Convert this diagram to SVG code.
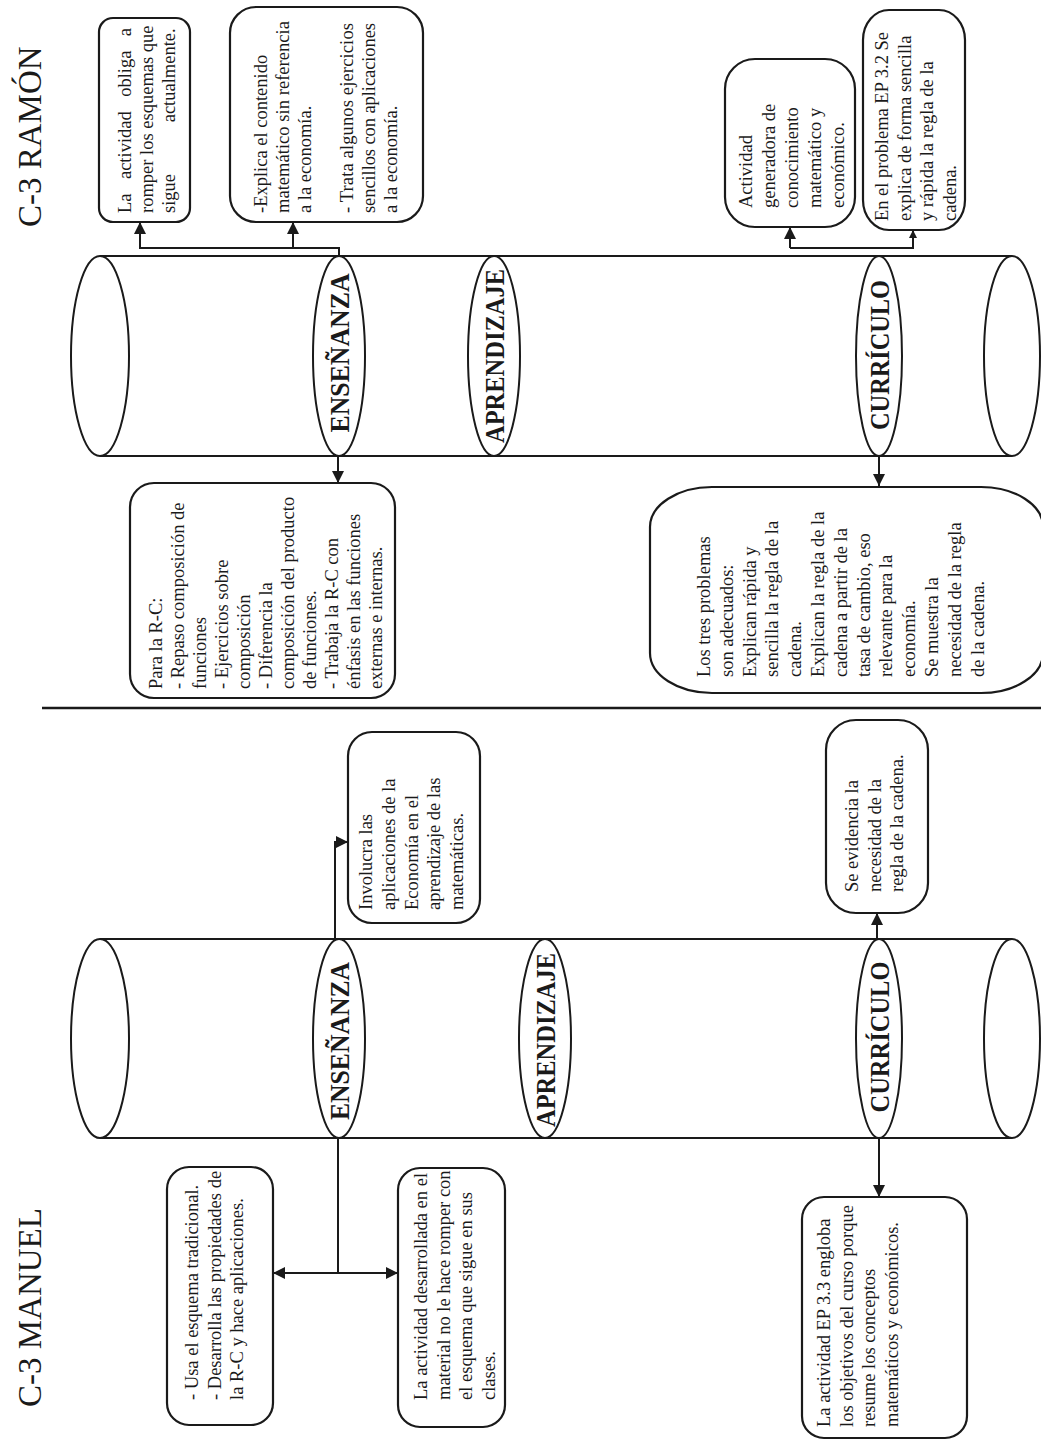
<svg xmlns="http://www.w3.org/2000/svg" width="1041" height="1441" viewBox="0 0 1041 1441">
  <style>
    .bg { fill: #ffffff; }
    .box { fill: #ffffff; stroke: #1a1a1a; stroke-width: 2.2; }
    .cyl { fill: none; stroke: #1a1a1a; stroke-width: 2; }
    .ring { fill: #ffffff; stroke: #1a1a1a; stroke-width: 2; }
    .wire { fill: none; stroke: #1a1a1a; stroke-width: 2; }
    .t { font-family: "Liberation Serif", "Times New Roman", serif; font-size: 18.5px; fill: #1a1a1a; }
    .lbl { font-family: "Liberation Serif", "Times New Roman", serif; font-size: 28px; font-weight: bold; fill: #1a1a1a; text-anchor: middle; }
    .title { font-family: "Liberation Serif", "Times New Roman", serif; font-size: 33px; fill: #1a1a1a; }
  </style>
  <defs>
    <marker id="arrow" viewBox="0 0 12 12" refX="12" refY="6" markerWidth="12" markerHeight="12" markerUnits="userSpaceOnUse" orient="auto-start-reverse">
      <path d="M0,0 L12,6 L0,12 z" fill="#1a1a1a"/>
    </marker>
    <marker id="arrow-sm" viewBox="0 0 12 12" refX="12" refY="6" markerWidth="8" markerHeight="8" markerUnits="userSpaceOnUse" orient="auto">
      <path d="M0,0 L12,6 L0,12 z" fill="#1a1a1a"/>
    </marker>
  </defs>

  <rect class="bg" x="0" y="0" width="1041" height="1441"/>

  <!-- section titles -->
  <text id="title-ramon" class="title" transform="translate(41,227) rotate(-90)">C-3 RAMÓN</text>
  <text id="title-manuel" class="title" transform="translate(41,1407) rotate(-90)">C-3 MANUEL</text>

  <!-- divider between the two cases -->
  <line x1="42" y1="708" x2="1041" y2="708" stroke="#1a1a1a" stroke-width="2.5"/>

  <!-- ===== C-3 RAMÓN cylinder ===== -->
  <g id="cyl-ramon">
    <line class="cyl" x1="100" y1="256" x2="1012" y2="256"/>
    <line class="cyl" x1="100" y1="456" x2="1012" y2="456"/>
    <ellipse class="cyl" cx="100" cy="356" rx="29" ry="100"/>
    <ellipse class="cyl" cx="1012" cy="356" rx="28" ry="100"/>
  </g>
  <g id="r-ensenanza">
    <ellipse class="ring" cx="339" cy="356" rx="26" ry="100"/>
    <text class="lbl" transform="translate(349,353) rotate(-90)" textLength="159" lengthAdjust="spacingAndGlyphs">ENSEÑANZA</text>
  </g>
  <g id="r-aprendizaje">
    <ellipse class="ring" cx="494" cy="356" rx="26" ry="100"/>
    <text class="lbl" transform="translate(504,356) rotate(-90)" textLength="174" lengthAdjust="spacingAndGlyphs">APRENDIZAJE</text>
  </g>
  <g id="r-curriculo">
    <ellipse class="ring" cx="879" cy="356" rx="23" ry="100"/>
    <text class="lbl" transform="translate(889,355) rotate(-90)" textLength="150" lengthAdjust="spacingAndGlyphs">CURRÍCULO</text>
  </g>

  <!-- ===== C-3 MANUEL cylinder ===== -->
  <g id="cyl-manuel">
    <line class="cyl" x1="100" y1="939" x2="1012" y2="939"/>
    <line class="cyl" x1="100" y1="1138" x2="1012" y2="1138"/>
    <ellipse class="cyl" cx="100" cy="1038.5" rx="29" ry="99.5"/>
    <ellipse class="cyl" cx="1012" cy="1038.5" rx="28" ry="99.5"/>
  </g>
  <g id="m-ensenanza">
    <ellipse class="ring" cx="339" cy="1038.5" rx="26" ry="99.5"/>
    <text class="lbl" transform="translate(349,1041) rotate(-90)" textLength="158" lengthAdjust="spacingAndGlyphs">ENSEÑANZA</text>
  </g>
  <g id="m-aprendizaje">
    <ellipse class="ring" cx="545" cy="1038.5" rx="26" ry="99.5"/>
    <text class="lbl" transform="translate(555,1040) rotate(-90)" textLength="174" lengthAdjust="spacingAndGlyphs">APRENDIZAJE</text>
  </g>
  <g id="m-curriculo">
    <ellipse class="ring" cx="879" cy="1038.5" rx="23" ry="99.5"/>
    <text class="lbl" transform="translate(889,1037) rotate(-90)" textLength="151" lengthAdjust="spacingAndGlyphs">CURRÍCULO</text>
  </g>

  <!-- ===== connectors ===== -->
  <g id="connectors" class="wire">
    <path class="wire" d="M339,256 V248 H140 V222" marker-end="url(#arrow)"/>
    <path class="wire" d="M293,248 V222" marker-end="url(#arrow)"/>
    <path class="wire" d="M790,248 V227" marker-end="url(#arrow)"/>
    <path class="wire" d="M790,248 H913 V230" marker-end="url(#arrow-sm)"/>
    <path class="wire" d="M338,456 V483" marker-end="url(#arrow)"/>
    <path class="wire" d="M879,456 V486" marker-end="url(#arrow)"/>
    <path class="wire" d="M335,939 V842 H348" marker-end="url(#arrow)"/>
    <path class="wire" d="M877,939 V913" marker-end="url(#arrow)"/>
    <path class="wire" d="M338,1138 V1273"/>
    <path class="wire" d="M273,1273 H398" marker-start="url(#arrow)" marker-end="url(#arrow)"/>
    <path class="wire" d="M879,1138 V1197" marker-end="url(#arrow)"/>
  </g>

  <!-- ===== RAMÓN notes ===== -->
  <g id="r-note-rompe">
    <rect class="box" x="99" y="18" width="91" height="204" rx="14"/>
    <text class="t" transform="translate(131,213) rotate(-90)">
      <tspan x="0" y="0" word-spacing="9.8">La actividad obliga a</tspan>
      <tspan x="0" y="22">romper los esquemas que</tspan>
      <tspan x="0" y="44" word-spacing="47">sigue actualmente.</tspan>
    </text>
  </g>
  <g id="r-note-explica">
    <rect class="box" x="230" y="7" width="193" height="215" rx="26"/>
    <text class="t" transform="translate(267,213) rotate(-90)">
      <tspan x="0" y="0">-Explica el contenido</tspan>
      <tspan x="0" y="22" textLength="192" lengthAdjust="spacing">matemático sin referencia</tspan>
      <tspan x="0" y="44">a la economía.</tspan>
      <tspan x="0" y="86" textLength="190" lengthAdjust="spacing">- Trata algunos ejercicios</tspan>
      <tspan x="0" y="108" textLength="190" lengthAdjust="spacing">sencillos con aplicaciones</tspan>
      <tspan x="0" y="130">a la economía.</tspan>
    </text>
  </g>
  <g id="r-note-generadora">
    <rect class="box" x="725" y="59" width="130" height="168" rx="30"/>
    <text class="t" transform="translate(752,208) rotate(-90)">
      <tspan x="0" y="0">Actividad</tspan>
      <tspan x="0" y="23">generadora de</tspan>
      <tspan x="0" y="46">conocimiento</tspan>
      <tspan x="0" y="69">matemático y</tspan>
      <tspan x="0" y="92">económico.</tspan>
    </text>
  </g>
  <g id="r-note-ep32">
    <rect class="box" x="863" y="10" width="102" height="220" rx="26" ry="30"/>
    <text class="t" transform="translate(888,221) rotate(-90)">
      <tspan x="0" y="0" textLength="189" lengthAdjust="spacing">En el problema EP 3.2 Se</tspan>
      <tspan x="0" y="22.5">explica de forma sencilla</tspan>
      <tspan x="0" y="45">y rápida la regla de la</tspan>
      <tspan x="0" y="67.5">cadena.</tspan>
    </text>
  </g>
  <g id="r-note-rc">
    <rect class="box" x="130" y="483" width="265" height="215" rx="24"/>
    <text class="t" transform="translate(162,689) rotate(-90)">
      <tspan x="0" y="0">Para la R-C:</tspan>
      <tspan x="0" y="22">- Repaso composición de</tspan>
      <tspan x="0" y="44">funciones</tspan>
      <tspan x="0" y="66">- Ejercicios sobre</tspan>
      <tspan x="0" y="88">composición</tspan>
      <tspan x="0" y="110">- Diferencia la</tspan>
      <tspan x="0" y="132">composición del producto</tspan>
      <tspan x="0" y="154">de funciones.</tspan>
      <tspan x="0" y="176">- Trabaja la R-C con</tspan>
      <tspan x="0" y="198">énfasis en las funciones</tspan>
      <tspan x="0" y="220">externas e internas.</tspan>
    </text>
  </g>
  <g id="r-note-problemas">
    <rect class="box" x="650" y="487" width="393" height="206" rx="62" ry="40"/>
    <text class="t" transform="translate(710,677) rotate(-90)">
      <tspan x="0" y="0">Los tres problemas</tspan>
      <tspan x="0" y="22.8">son adecuados:</tspan>
      <tspan x="0" y="45.6">Explican rápida y</tspan>
      <tspan x="0" y="68.4">sencilla la regla de la</tspan>
      <tspan x="0" y="91.2">cadena.</tspan>
      <tspan x="0" y="114">Explican la regla de la</tspan>
      <tspan x="0" y="136.8">cadena a partir de la</tspan>
      <tspan x="0" y="159.6">tasa de cambio, eso</tspan>
      <tspan x="0" y="182.4">relevante para la</tspan>
      <tspan x="0" y="205.2">economía.</tspan>
      <tspan x="0" y="228">Se muestra la</tspan>
      <tspan x="0" y="250.8">necesidad de la regla</tspan>
      <tspan x="0" y="273.6">de la cadena.</tspan>
    </text>
  </g>

  <!-- ===== MANUEL notes ===== -->
  <g id="m-note-involucra">
    <rect class="box" x="348" y="732" width="132" height="191" rx="24"/>
    <text class="t" transform="translate(372,910) rotate(-90)">
      <tspan x="0" y="0">Involucra las</tspan>
      <tspan x="0" y="22.75">aplicaciones de la</tspan>
      <tspan x="0" y="45.5">Economía en el</tspan>
      <tspan x="0" y="68.25">aprendizaje de las</tspan>
      <tspan x="0" y="91">matemáticas.</tspan>
    </text>
  </g>
  <g id="m-note-evidencia">
    <rect class="box" x="826" y="720" width="102" height="193" rx="30"/>
    <text class="t" transform="translate(858,892) rotate(-90)">
      <tspan x="0" y="0">Se evidencia la</tspan>
      <tspan x="0" y="22.5">necesidad de la</tspan>
      <tspan x="0" y="45">regla de la cadena.</tspan>
    </text>
  </g>
  <g id="m-note-esquema">
    <rect class="box" x="167" y="1167" width="106" height="258" rx="22"/>
    <text class="t" transform="translate(198,1400) rotate(-90)">
      <tspan x="0" y="0">- Usa el esquema tradicional.</tspan>
      <tspan x="0" y="22.5">- Desarrolla las propiedades de</tspan>
      <tspan x="0" y="45">la R-C y hace aplicaciones.</tspan>
    </text>
  </g>
  <g id="m-note-material">
    <rect class="box" x="398" y="1168" width="107" height="259" rx="22"/>
    <text class="t" transform="translate(427,1400) rotate(-90)">
      <tspan x="0" y="0">La actividad desarrollada en el</tspan>
      <tspan x="0" y="22.5">material no le hace romper con</tspan>
      <tspan x="0" y="45">el esquema que sigue en sus</tspan>
      <tspan x="0" y="67.5">clases.</tspan>
    </text>
  </g>
  <g id="m-note-ep33">
    <rect class="box" x="802" y="1197" width="165" height="241" rx="22"/>
    <text class="t" transform="translate(830,1427) rotate(-90)">
      <tspan x="0" y="0">La actividad EP 3.3 engloba</tspan>
      <tspan x="0" y="22.7">los objetivos del curso porque</tspan>
      <tspan x="0" y="45.4">resume los conceptos</tspan>
      <tspan x="0" y="68.1">matemáticos y económicos.</tspan>
    </text>
  </g>
</svg>
